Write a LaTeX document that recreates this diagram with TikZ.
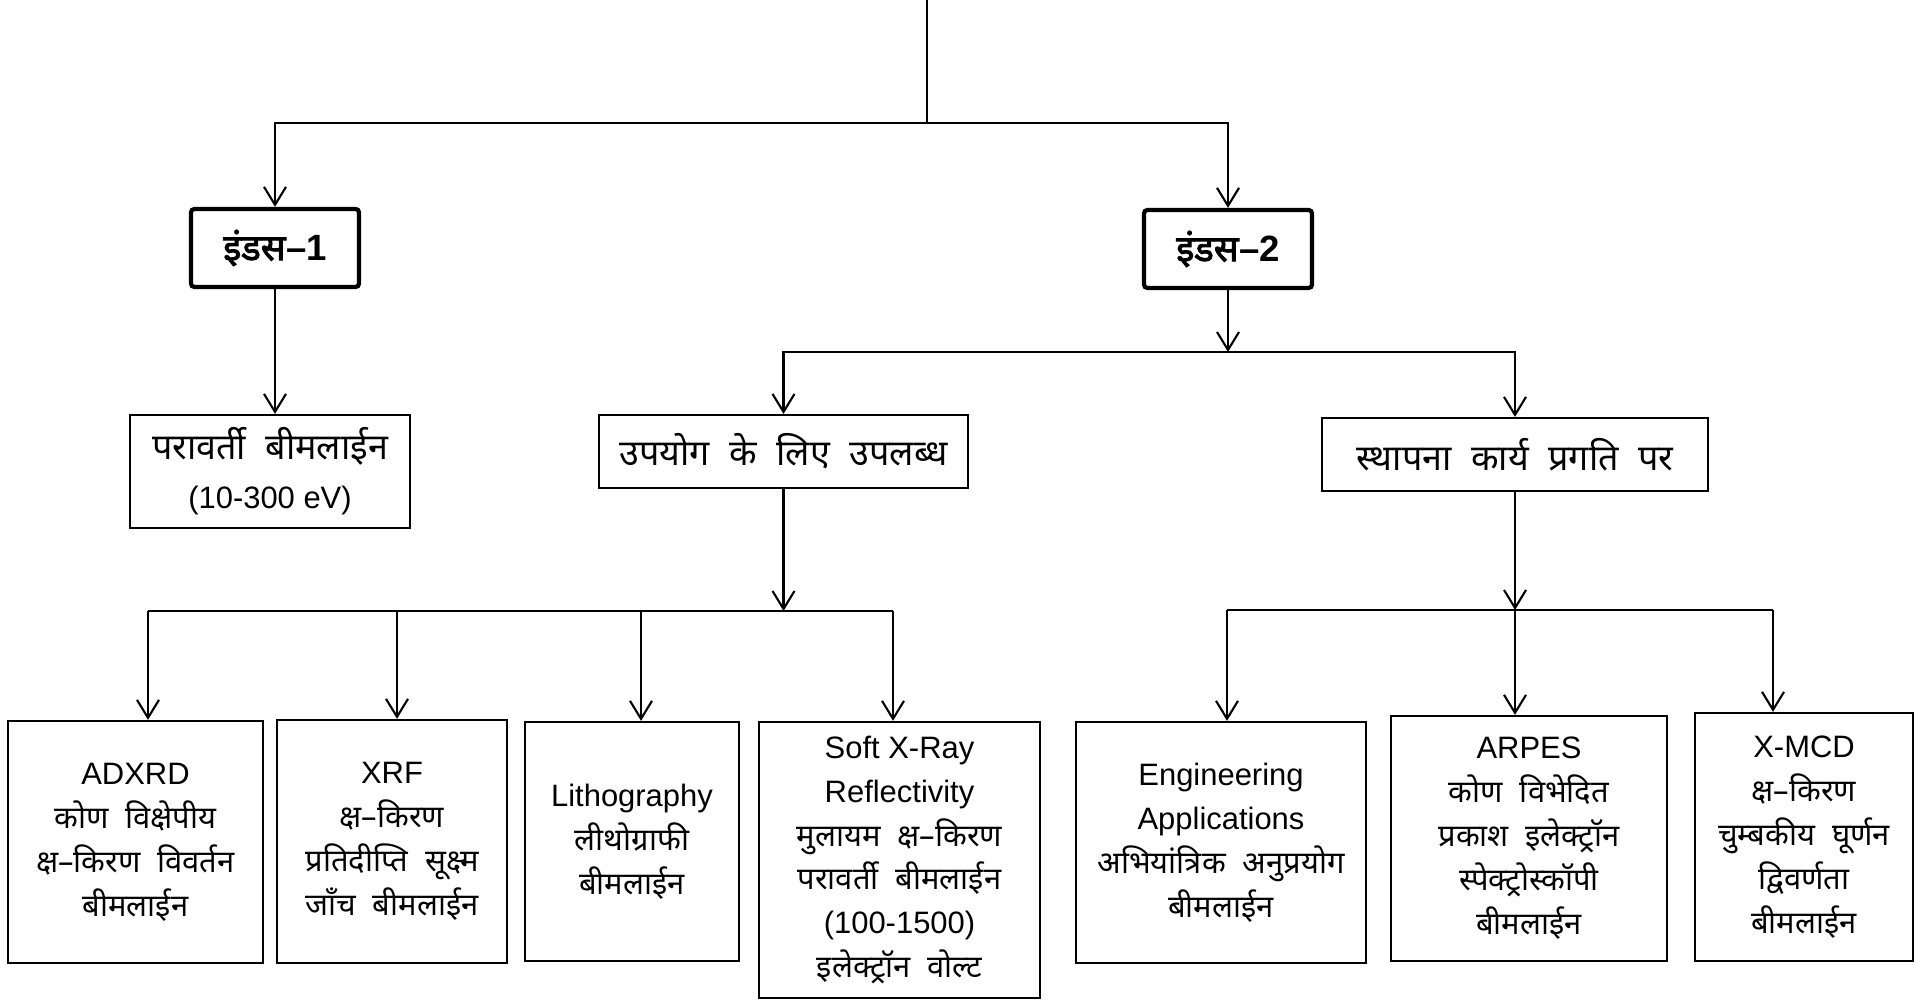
\documentclass[tikz,border=0pt]{standalone}
\usepackage{fontspec}
\setmainfont{Liberation Sans}
\newfontfamily\hin[Script=Devanagari, WordSpace=1.6]{Noto Sans}
\newfontfamily\hinw[Script=Devanagari, WordSpace=2.1]{Noto Sans}
\newfontfamily\hinb[Script=Devanagari, FakeBold=2.5]{Noto Sans}
\usetikzlibrary{arrows.meta, calc}
\tikzset{
  box/.style   = {draw, line width=0.6pt, align=center, inner sep=2pt,
                  font=\fontsize{8.8}{12.5}\selectfont},
  midbox/.style = {box, font=\fontsize{10.2}{13}\selectfont},
  indus/.style = {box, line width=1.2pt, rounded corners=1pt,
                  font=\fontsize{10.4}{13}\selectfont},
  arr/.style   = {-{Straight Barb[length=1.8mm, width=2.2mm]}, line width=0.6pt}
}

\begin{document}
\begin{tikzpicture}[x=0.01cm, y=-0.01cm]
  \useasboundingbox (0,0) rectangle (1931,1001);

  % ── Indus rings ───────────────────────────────────────────────────────────
  \node[indus, minimum width=1.68cm, minimum height=0.78cm] (Ind1) at (275,248)
        {{\hinb इंडस}\textbf{–1}};
  \node[indus, minimum width=1.68cm, minimum height=0.78cm] (Ind2) at (1228,249)
        {{\hinb इंडस}\textbf{–2}};

  % ── Second level ──────────────────────────────────────────────────────────
  \node[midbox, minimum width=2.80cm, minimum height=1.13cm] (Para) at (270,471.5)
        {\hinw परावर्ती बीमलाईन\\[1pt]\fontsize{8.8}{12.5}\selectfont(10-300 eV)};
  \node[midbox, minimum width=3.69cm, minimum height=0.73cm] (Upl) at (783.5,451.5)
        {\hinw उपयोग के लिए उपलब्ध};
  \node[midbox, minimum width=3.86cm, minimum height=0.73cm] (Sth) at (1515,454.5)
        {\hinw स्थापना कार्य प्रगति पर};

  % ── Beamlines available ───────────────────────────────────────────────────
  \node[box, minimum width=2.55cm, minimum height=2.42cm] (Adxrd) at (135.5,842)
        {ADXRD\\\hin कोण विक्षेपीय\\\hin क्ष–किरण विवर्तन\\\hin बीमलाईन};
  \node[box, minimum width=2.30cm, minimum height=2.43cm] (Xrf) at (392,841.5)
        {XRF\\\hin क्ष–किरण\\\hin प्रतिदीप्ति सूक्ष्म\\\hin जाँच बीमलाईन};
  \node[box, minimum width=2.14cm, minimum height=2.39cm] (Litho) at (632,841.5)
        {Lithography\\\hin लीथोग्राफी\\\hin बीमलाईन};
  \node[box, minimum width=2.81cm, minimum height=2.76cm] (Sxr) at (899.5,860)
        {Soft X-Ray\\Reflectivity\\\hin मुलायम क्ष–किरण\\\hin परावर्ती बीमलाईन\\(100-1500)\\\hin इलेक्ट्रॉन वोल्ट};

  % ── Beamlines under installation ──────────────────────────────────────────
  \node[box, minimum width=2.90cm, minimum height=2.41cm] (Eng) at (1221,842.5)
        {Engineering\\Applications\\\hin अभियांत्रिक अनुप्रयोग\\\hin बीमलाईन};
  \node[box, minimum width=2.76cm, minimum height=2.45cm] (Arpes) at (1529,838.5)
        {ARPES\\\hin कोण विभेदित\\\hin प्रकाश इलेक्ट्रॉन\\\hin स्पेक्ट्रोस्कॉपी\\\hin बीमलाईन};
  \node[box, minimum width=2.18cm, minimum height=2.48cm] (Xmcd) at (1804,837)
        {X-MCD\\\hin क्ष–किरण\\\hin चुम्बकीय घूर्णन\\\hin द्विवर्णता\\\hin बीमलाईन};

  % ── Junctions ─────────────────────────────────────────────────────────────
  \coordinate (Src) at (927,0);
  \coordinate (J0)  at (927,123);
  \coordinate (J1)  at (1228,352);
  \coordinate (J2)  at (783.5,611);
  \coordinate (J3)  at (1515,610);
  \coordinate (B1)  at (148,611);
  \coordinate (B2)  at (397,611);
  \coordinate (B3)  at (641,611);
  \coordinate (B4)  at (893,611);
  \coordinate (C1)  at (1227,610);
  \coordinate (C3)  at (1773,610);

  % ── Connections ───────────────────────────────────────────────────────────
  \draw[line width=0.4pt] (Src) -- (J0);
  \draw[arr] (J0) -| (Ind1.north);
  \draw[arr] (J0) -| (Ind2.north);

  \draw[arr] (Ind1.south) -- (Ind1.south |- Para.north);

  \draw[arr] (Ind2.south) -- (J1);
  \draw[arr] (J1) -| (Upl.north);
  \draw[arr] (J1) -| (Sth.north);

  % available
  \draw[arr] (Upl.south) -- (J2);
  \draw[line width=0.6pt] (B1) -- (B4);
  \foreach \b/\n in {B1/Adxrd, B2/Xrf, B3/Litho, B4/Sxr}
    \draw[arr] (\b) -- (\b |- \n.north);

  % under installation
  \draw[arr] (Sth.south) -- (J3);
  \draw[line width=0.6pt] (C1) -- (C3);
  \foreach \b/\n in {C1/Eng, J3/Arpes, C3/Xmcd}
    \draw[arr] (\b) -- (\b |- \n.north);

\end{tikzpicture}
\end{document}
